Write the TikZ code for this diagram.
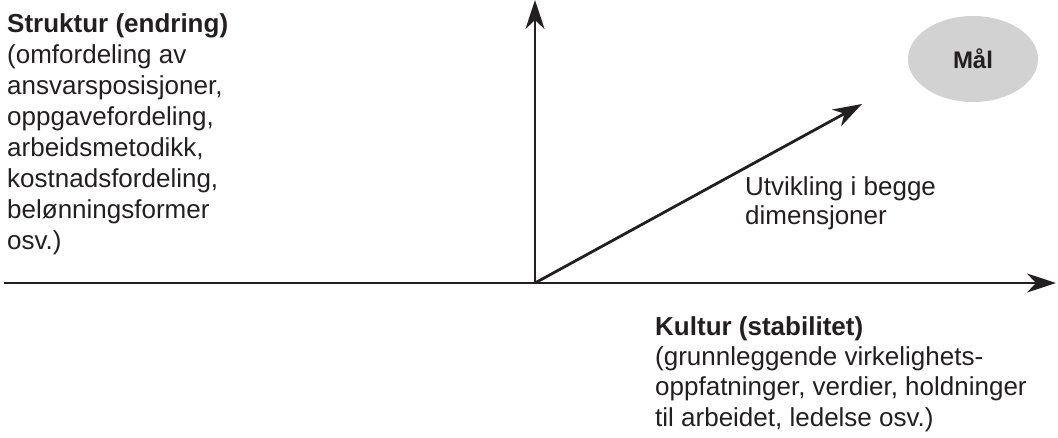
\documentclass[tikz,border=0pt]{standalone}
\usepackage{fontspec}
\setmainfont{Liberation Sans}
\usetikzlibrary{arrows.meta,shapes.geometric}
\definecolor{ink}{HTML}{231F20}
\definecolor{goalgray}{HTML}{D2D2D2}
\tikzset{
  axis/.style={draw=ink, line width=2.8pt, -{Stealth[length=29pt, width=19pt, inset=9pt]}},
  txt/.style={anchor=base west, inner sep=0pt, align=left, text=ink},
  goal/.style={ellipse, fill=goalgray, minimum width=130pt, minimum height=86pt, inner sep=0pt, text=ink, font=\fontsize{24}{28}\selectfont\bfseries}
}
\begin{document}
\begin{tikzpicture}[x=1pt,y=-1pt]
\useasboundingbox (0,0) rectangle (1058,438);
\coordinate (o) at (535,283);
\coordinate (xend) at (1056,283);
\coordinate (xstart) at (4,283);
\coordinate (yend) at (535,0);
\coordinate (dend) at (862,104);
\draw[axis] (xstart) -- (xend);
\draw[axis] (o) -- (yend);
\draw[axis] (o) -- (dend);
\node[goal] (maal) at (973,59) {Mål};
% anchor base = baseline of last line
\node[txt, font=\fontsize{26}{31}\selectfont] (struktur) at (7,250) {\textbf{Struktur (endring)}\\(omfordeling av\\ansvarsposisjoner,\\oppgavefordeling,\\arbeidsmetodikk,\\kostnadsfordeling,\\belønningsformer\\osv.)};
\node[txt, font=\fontsize{26}{29}\selectfont] (utv) at (745,225) {Utvikling i begge\\dimensjoner};
\node[txt, font=\fontsize{26}{30.3}\selectfont] (kultur) at (655,426) {\textbf{Kultur (stabilitet)}\\(grunnleggende virkelighets-\\oppfatninger, verdier, holdninger\\til arbeidet, ledelse osv.)};
\end{tikzpicture}
\end{document}
